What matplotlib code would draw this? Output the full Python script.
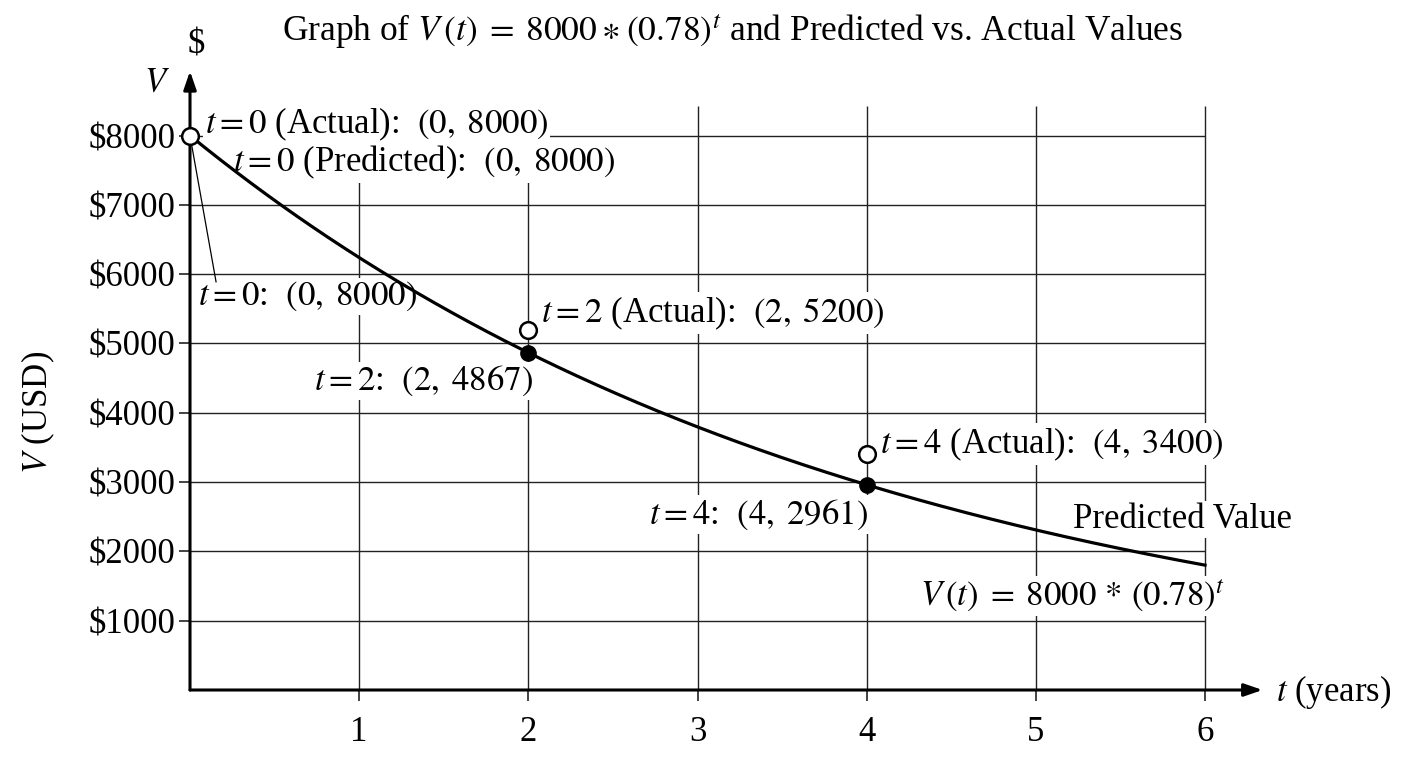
import numpy as np
import matplotlib
matplotlib.use("Agg")
import matplotlib.pyplot as plt

plt.rcParams['font.family'] = ['Liberation Serif', 'DejaVu Serif']
plt.rcParams['mathtext.fontset'] = 'stix'

# Data
initial_value = 8000
rate = 0.78
years_actual = [0, 2, 4]
values_actual = [8000, 5200, 3400]
years_pred = [0, 2, 4]
values_pred = [8000, 4867, 2961]
x_ticks = [1, 2, 3, 4, 5, 6]
y_ticks = [1000, 2000, 3000, 4000, 5000, 6000, 7000, 8000]
y_tick_labels = [r'\$1000', r'\$2000', r'\$3000', r'\$4000', r'\$5000', r'\$6000', r'\$7000', r'\$8000']

W, H = 1408, 768
fig = plt.figure(figsize=(W / 100, H / 100), dpi=100)
ax = fig.add_axes([190 / W, 78 / H, 1082.7 / W, 623.7 / H])
ax.set_xlim(0, 6.4)
ax.set_ylim(0, 9000)
for s in ax.spines.values():
    s.set_visible(False)

FS = 25
# grid
ax.vlines(x_ticks, 0, 8420, color='#222222', lw=1.0, zorder=1)
ax.hlines(y_ticks, 0, 6, color='#222222', lw=1.0, zorder=1)

ax.set_xticks(x_ticks)
ax.set_xticklabels([str(v) for v in x_ticks], fontsize=FS)
ax.set_yticks(y_ticks)
ax.set_yticklabels(y_tick_labels, fontsize=FS)
ax.tick_params(length=8, width=1.2, color='#222222', direction='out')
ax.tick_params(axis='x', pad=11)
ax.tick_params(axis='y', pad=2.5)

# axes arrows
ax.annotate('', xy=(6.34, 0), xytext=(0, 0),
            arrowprops=dict(arrowstyle='-|>,head_length=1.1,head_width=0.38', lw=2.2, color='black',
                            shrinkA=0, shrinkB=0), annotation_clip=False, zorder=5)
ax.annotate('', xy=(0, 8930), xytext=(0, 0),
            arrowprops=dict(arrowstyle='-|>,head_length=1.1,head_width=0.38', lw=2.2, color='black',
                            shrinkA=0, shrinkB=0), annotation_clip=False, zorder=5)

# curve
t = np.linspace(0, 6, 400)
ax.plot(t, initial_value * rate ** t, color='black', lw=2.3, zorder=4, clip_on=False)

# leader line
ax.plot([0, 0.154], [8000, 5890], color='black', lw=0.9, zorder=4)

# points
ax.plot(years_pred, values_pred, 'o', color='black', ms=11, zorder=6, clip_on=False)
ax.plot(years_actual, values_actual, 'o', mfc='white', mec='black', mew=1.8, ms=12, zorder=7, clip_on=False)

box = dict(facecolor='white', edgecolor='none', pad=1.5)
def lab(x, y, s, ha='left'):
    ax.text(x, y, s, fontsize=FS, ha=ha, va='center', bbox=box, zorder=3)

eq = r'$t='
lab(0.089, 8170, eq + r'0$ (Actual):  $(0,\;8000)$')
lab(0.254, 7610, eq + r'0$ (Predicted):  $(0,\;8000)$')
lab(0.047, 5680, eq + r'0$:  $(0,\;8000)$')
lab(2.075, 5440, eq + r'2$ (Actual):  $(2,\;5200)$')
lab(2.028, 4460, eq + r'2$:  $(2,\;4867)$', ha='right')
lab(4.079, 3550, eq + r'4$ (Actual):  $(4,\;3400)$')
lab(4.008, 2530, eq + r'4$:  $(4,\;2961)$', ha='right')
lab(5.22, 2460, 'Predicted Value')
lab(6.12, 1360, r'$V\,(t) \;=\; 8000 \,*\, (0.78)^t$', ha='right')

ax.text(6.42, -30, r'$t$ (years)', fontsize=FS, ha='left', va='center', clip_on=False)

fig.text(733 / W, 1 - 32 / H, r'Graph of $V\,(t) \;=\; 8000 \:\ast\: (0.78)^t$ and Predicted vs. Actual Values',
         fontsize=25.5, ha='center', va='center')
fig.text(196 / W, 1 - 45 / H, r'\$', fontsize=FS, ha='center', va='center')
fig.text(157 / W, 1 - 83 / H, r'$V$', fontsize=FS, ha='center', va='center')
fig.text(38 / W, 1 - 412 / H, r'$V$ (USD)', fontsize=FS, ha='center', va='center', rotation=90)

fig.savefig('out.png', dpi=100, facecolor='white')
